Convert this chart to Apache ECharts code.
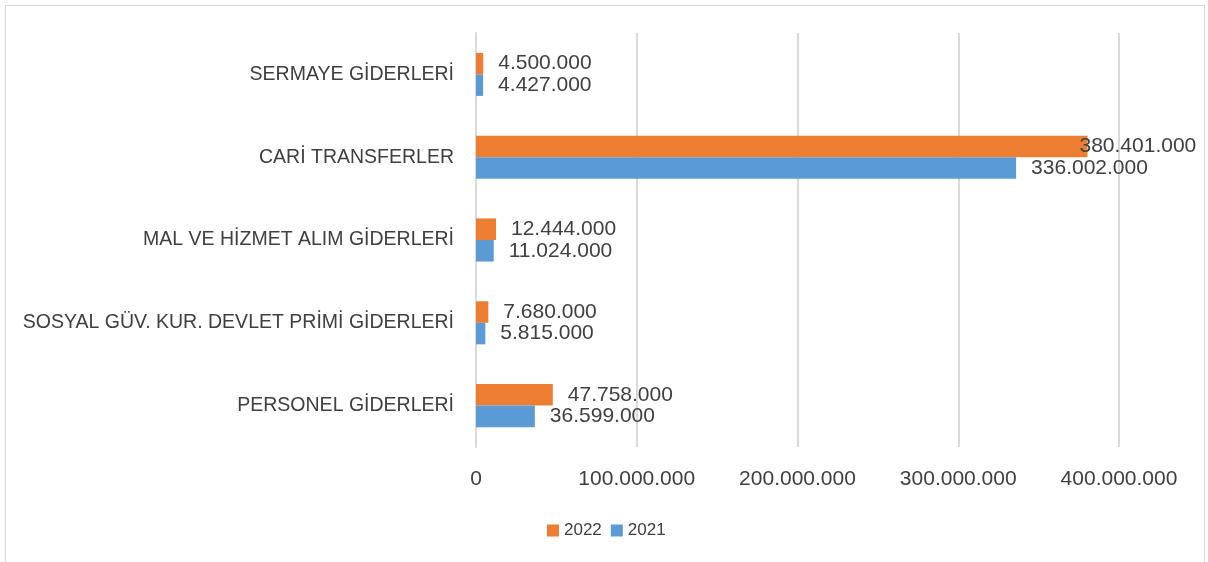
<!DOCTYPE html>
<html>
<head>
<meta charset="utf-8">
<script src="https://cdn.jsdelivr.net/npm/echarts@6/dist/echarts.min.js"></script>
<style>
  html, body { margin: 0; padding: 0; background: #fff; }
  #frame { position: absolute; left: 5px; top: 5px; width: 1200px; height: 560px; border: 1px solid #d9d9d9; box-sizing: border-box; }
  #chart { position: absolute; left: 0; top: 0; width: 1208px; height: 562px; }
</style>
</head>
<body>
<div id="frame"></div>
<div id="chart"></div>
<script>
var categories = ['PERSONEL GİDERLERİ', 'SOSYAL GÜV. KUR. DEVLET PRİMİ GİDERLERİ', 'MAL VE HİZMET ALIM GİDERLERİ', 'CARİ TRANSFERLER', 'SERMAYE GİDERLERİ'];
var values2021 = [36599000, 5815000, 11024000, 336002000, 4427000];
var values2022 = [47758000, 7680000, 12444000, 380401000, 4500000];
var legendNames = ['2022', '2021'];

function fmt(v) {
    return String(v).replace(/\B(?=(\d{3})+(?!\d))/g, '.');
}

var textColor = '#404040';
var fontFamily = 'Liberation Sans, Arial, sans-serif';

function barData(values) {
    return values.map(function (v) {
        // label of the longest bar is pulled in so it stays inside the frame
        if (v > 370000000) {
            return { value: v, label: { distance: -8 } };
        }
        return v;
    });
}

var barLabel = {
    show: true,
    position: 'right',
    distance: 15,
    color: textColor,
    fontSize: 21,
    formatter: function (p) { return fmt(p.value); }
};

var myChart = echarts.init(document.getElementById('chart'));
var option = {
    animation: false,
    textStyle: { fontFamily: fontFamily },
    grid: { left: 476, right: 89, top: 33, bottom: 115 },
    legend: {
        data: legendNames,
        bottom: 18,
        left: 542,
        itemWidth: 12,
        itemHeight: 12,
        itemGap: 9,
        icon: 'rect',
        textStyle: { color: textColor, fontSize: 17, fontFamily: fontFamily }
    },
    xAxis: {
        type: 'value',
        min: 0,
        max: 400000000,
        interval: 100000000,
        axisLine: { show: false },
        axisTick: { show: false },
        splitLine: { lineStyle: { color: '#d9d9d9', width: 2 } },
        axisLabel: {
            color: textColor,
            fontSize: 21,
            margin: 22,
            formatter: function (v) { return fmt(v); }
        }
    },
    yAxis: {
        type: 'category',
        data: categories,
        axisLine: { show: true, lineStyle: { color: '#d9d9d9', width: 2 } },
        axisTick: { show: false },
        axisLabel: { color: textColor, fontSize: 19.5, margin: 22 }
    },
    series: [
        {
            name: '2022',
            type: 'bar',
            data: barData(values2022),
            barGap: '0%',
            barCategoryGap: '48%',
            itemStyle: { color: '#ED7D31' },
            label: barLabel
        },
        {
            name: '2021',
            type: 'bar',
            data: barData(values2021),
            barGap: '0%',
            barCategoryGap: '48%',
            itemStyle: { color: '#5B9BD5' },
            label: barLabel
        }
    ]
};
option && myChart.setOption(option);
</script>
</body>
</html>
